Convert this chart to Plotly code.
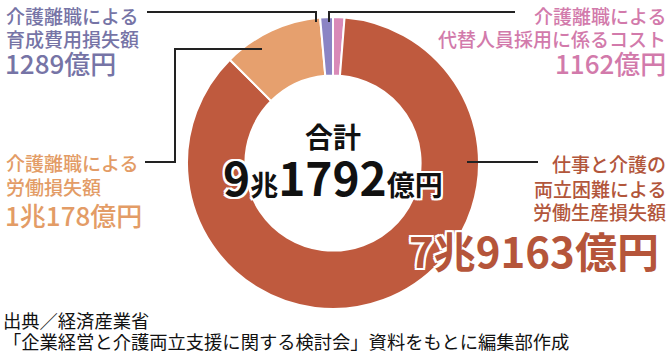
import plotly.graph_objects as go

# ---- data (clockwise from 12 o'clock) ----
labels = ["介護離職による代替人員採用に係るコスト",
          "仕事と介護の両立困難による労働生産損失額",
          "介護離職による労働損失額",
          "介護離職による育成費用損失額"]
values = [1162, 79163, 10178, 1289]  # 億円
label_lines = [["介護離職による", "代替人員採用に係るコスト"],
               ["仕事と介護の", "両立困難による", "労働生産損失額"],
               ["介護離職による", "労働損失額"],
               ["介護離職による", "育成費用損失額"]]
slice_colors = ["#d98ab8", "#bf5a3e", "#e6a06e", "#8b84c4"]
text_colors = ["#d27aab", "#b2563b", "#e39c66", "#7674a6"]
total_title = "合計"
source_lines = ["出典／経済産業省",
                "「企業経営と介護両立支援に関する検討会」資料をもとに編集部作成"]

W, H = 670, 354
FONT = "Noto Sans CJK JP"


def fmt(v):
    if v >= 10000:
        return f"{v // 10000}兆{v % 10000}億円"
    return f"{v}億円"


def px(x):
    return x / W


def py(y):
    return 1 - y / H


fig = go.Figure(go.Pie(
    labels=labels, values=values, sort=False, direction="clockwise",
    rotation=0, hole=0.6, textinfo="none", hoverinfo="label+value",
    marker=dict(colors=slice_colors, line=dict(color="white", width=2)),
    domain=dict(x=[px(187), px(479)], y=[py(309), py(17)]),
    showlegend=False,
))

ann = []


def add(text, x, y, size, color, xanchor, weight="normal", shadow=None):
    f = dict(family=FONT, size=size, color=color, weight=weight)
    if shadow:
        f["shadow"] = shadow
    ann.append(dict(text=text, x=px(x), y=py(y), xref="paper", yref="paper",
                    xanchor=xanchor, yanchor="middle", showarrow=False, font=f))


# Purple (育成費用損失額) – top left
add(label_lines[3][0], 4, 15, 19, text_colors[3], "left", 500)
add(label_lines[3][1], 4, 38, 19, text_colors[3], "left", 500)
add(fmt(values[3]), 3, 62, 26, text_colors[3], "left", 500)

# Pink (代替人員採用) – top right
add(label_lines[0][0], 668, 15, 19, text_colors[0], "right", 500)
add(label_lines[0][1], 668, 38, 19, text_colors[0], "right", 500)
add(fmt(values[0]), 668, 62, 26, text_colors[0], "right", 500)

# Orange (労働損失額) – left middle
add(label_lines[2][0], 4, 162, 19, text_colors[2], "left", 500)
add(label_lines[2][1], 4, 186, 19, text_colors[2], "left", 500)
add(fmt(values[2]), 3, 214, 26, text_colors[2], "left", 500)

# Dark (労働生産損失額) – right middle
add(label_lines[1][0], 668, 164, 19, text_colors[1], "right", 500)
add(label_lines[1][1], 668, 188, 19, text_colors[1], "right", 500)
add(label_lines[1][2], 668, 211, 19, text_colors[1], "right", 500)
outline = ("2px 0 0 #fff, -2px 0 0 #fff, 0 2px 0 #fff, 0 -2px 0 #fff, "
           "2px 2px 0 #fff, -2px -2px 0 #fff, 2px -2px 0 #fff, -2px 2px 0 #fff")
add(fmt(values[1]), 661, 249, 42, "#b5553a", "right", "bold", outline)

# Center total
tot = sum(values)
add(total_title, 333, 136, 28, "#111111", "center", "bold")
tot_txt = (f"{tot // 10000}<span style='font-size:28px'>兆</span>"
           f"{tot % 10000}<span style='font-size:28px'>億円</span>")
add(tot_txt, 333, 176, 46, "#111111", "center", "bold", outline)

# Source
add(source_lines[0], 1, 320, 18.3, "#111111", "left")
add(source_lines[1], 1, 341, 18.3, "#111111", "left")

# Leader lines
leaders = [
    [(147, 12), (316, 12), (316, 22)],
    [(329, 22), (329, 12), (515, 12)],
    [(145, 162), (175, 162), (175, 49), (262, 49)],
    [(467, 162), (538, 162)],
]
shapes = []
for pts in leaders:
    path = "M " + " L ".join(f"{px(x)},{py(y)}" for x, y in pts)
    shapes.append(dict(type="path", path=path, xref="paper", yref="paper",
                       line=dict(color="#222222", width=2)))

fig.update_layout(
    width=W, height=H, margin=dict(l=0, r=0, t=0, b=0),
    paper_bgcolor="white", plot_bgcolor="white",
    annotations=ann, shapes=shapes,
    font=dict(family=FONT),
)

fig.write_html("out.html")
